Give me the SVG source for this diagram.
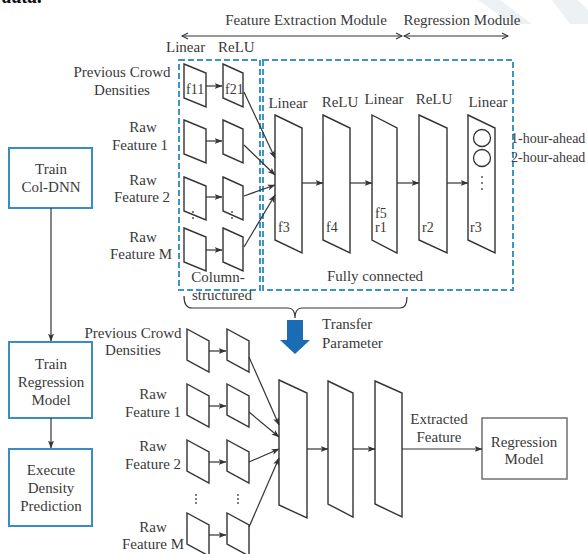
<svg xmlns="http://www.w3.org/2000/svg" width="588" height="554" viewBox="0 0 588 554">
<style>
.t{font-family:"Liberation Serif","Times New Roman",serif;font-size:15px;fill:#3a3a3a}
.m{text-anchor:middle}
.s{font-size:14px}
.p{fill:#fff;stroke:#333;stroke-width:1.4}
.c{stroke:#333;stroke-width:1.2;fill:none;marker-end:url(#ah)}
.dash{fill:none;stroke:#3d95c6;stroke-width:2;stroke-dasharray:6 3}
.lb{fill:#fff;stroke:#3a8cc4;stroke-width:2}
.dot{fill:#444}
</style>
<defs>
<marker id="ah" viewBox="0 0 8 8" refX="7.5" refY="4" markerWidth="8" markerHeight="8" markerUnits="userSpaceOnUse" orient="auto">
<path d="M0,1 L8,4 L0,7 L2,4 Z" fill="#333"/>
</marker>
<marker id="oh" viewBox="0 0 8 8" refX="7" refY="4" markerWidth="8" markerHeight="8" markerUnits="userSpaceOnUse" orient="auto-start-reverse">
<path d="M1,1 L7,4 L1,7" fill="none" stroke="#333" stroke-width="1.1"/>
</marker>
</defs>
<rect width="588" height="554" fill="#fff"/>
<g id="watermark" fill="#eef1f4">
<polygon points="478,0 500,0 532,24 512,24"/>
<polygon points="552,0 578,0 588,10 588,24 570,24"/>
</g>
<text class="t" x="2" y="3" style="font-size:20px;font-weight:bold;font-style:italic;fill:#111">data.</text>

<g id="modules">
<text class="t m" x="306" y="25">Feature Extraction Module</text>
<text class="t m" x="462" y="25">Regression Module</text>
<line x1="182" y1="36" x2="402" y2="36" stroke="#333" stroke-width="1" marker-start="url(#oh)" marker-end="url(#oh)"/>
<line x1="404" y1="36" x2="508" y2="36" stroke="#333" stroke-width="1" marker-start="url(#oh)" marker-end="url(#oh)"/>
</g>

<g id="col-labels">
<text class="t" x="166" y="52">Linear</text>
<text class="t" x="218" y="52">ReLU</text>
</g>

<g id="dashed-boxes">
<rect class="dash" x="179" y="60" width="81" height="230"/>
<rect class="dash" x="263" y="60" width="250" height="230"/>
</g>

<g id="inputs-top">
<text class="t m" x="122" y="77">Previous Crowd</text>
<text class="t m" x="122" y="95">Densities</text>
<text class="t m" x="143" y="132">Raw</text>
<text class="t m" x="140" y="150">Feature 1</text>
<text class="t m" x="143" y="185">Raw</text>
<text class="t m" x="142" y="202">Feature 2</text>
<text class="t m" x="143" y="242">Raw</text>
<text class="t m" x="141" y="259">Feature M</text>
</g>

<g id="column-top">
<polygon class="p" points="184,64 206,73 206,107 184,98"/>
<polygon class="p" points="223,64 243,73 243,107 223,98"/>
<text class="t s" x="186" y="94">f11</text>
<text class="t s" x="225" y="94">f21</text>
<polygon class="p" points="184,120 206,129 206,163 184,154"/>
<polygon class="p" points="223,120 243,129 243,163 223,154"/>
<polygon class="p" points="184,177 206,186 206,220 184,211"/>
<polygon class="p" points="223,177 243,186 243,220 223,211"/>
<polygon class="p" points="184,228 206,237 206,271 184,262"/>
<polygon class="p" points="223,228 243,237 243,271 223,262"/>
<circle class="dot" cx="193" cy="212" r="0.9"/><circle class="dot" cx="193" cy="218" r="0.9"/>
<circle class="dot" cx="232" cy="212" r="0.9"/><circle class="dot" cx="232" cy="218" r="0.9"/>
<text class="t m" x="218" y="282">Column-</text>
<text class="t m" x="222" y="300">structured</text>
</g>

<g id="fc-top">
<polygon class="p" points="275,115 302,128 302,253 275,240"/>
<polygon class="p" points="323,115 350,128 350,253 323,240"/>
<polygon class="p" points="372,115 397,128 397,253 372,240"/>
<polygon class="p" points="419,115 447,128 447,253 419,240"/>
<polygon class="p" points="468,115 495,128 495,253 468,240"/>
<circle cx="482" cy="138" r="8.5" fill="#fff" stroke="#333" stroke-width="1.3"/>
<circle cx="482" cy="158" r="8.5" fill="#fff" stroke="#333" stroke-width="1.3"/>
<circle class="dot" cx="482" cy="177" r="0.9"/><circle class="dot" cx="482" cy="183" r="0.9"/><circle class="dot" cx="482" cy="189" r="0.9"/>
<text class="t m" x="288" y="108">Linear</text>
<text class="t m" x="340" y="107">ReLU</text>
<text class="t m" x="384" y="104">Linear</text>
<text class="t m" x="434" y="104">ReLU</text>
<text class="t m" x="488" y="107">Linear</text>
<text class="t s" x="278" y="232">f3</text>
<text class="t s" x="326" y="232">f4</text>
<text class="t s" x="375" y="218">f5</text>
<text class="t s" x="375" y="232">r1</text>
<text class="t s" x="422" y="232">r2</text>
<text class="t s" x="470" y="232">r3</text>
<text class="t s" x="511" y="143">1-hour-ahead</text>
<text class="t s" x="511" y="162">2-hour-ahead</text>
<text class="t m" x="375" y="281">Fully connected</text>
</g>

<g id="transfer">
<path d="M184,296 Q184,308 192,308 H288 Q295,308 295,318 M295,318 Q295,308 302,308 H400 Q407,308 407,297" fill="none" stroke="#333" stroke-width="1.2"/>
<polygon points="287,320 303,320 303,340 310,340 295,354 280,340 287,340" fill="#1b6db3"/>
<text class="t" x="322" y="329">Transfer</text>
<text class="t" x="322" y="348">Parameter</text>
</g>

<g id="flow">
<rect class="lb" x="9" y="148" width="83" height="60"/>
<text class="t m" x="51" y="174">Train</text>
<text class="t m" x="51" y="192">Col-DNN</text>
<rect class="lb" x="9" y="342" width="83" height="76"/>
<text class="t m" x="51" y="369">Train</text>
<text class="t m" x="51" y="387">Regression</text>
<text class="t m" x="51" y="405">Model</text>
<rect class="lb" x="9" y="449" width="83" height="77"/>
<text class="t m" x="51" y="475">Execute</text>
<text class="t m" x="51" y="493">Density</text>
<text class="t m" x="51" y="511">Prediction</text>
</g>

<g id="inputs-bottom">
<text class="t m" x="133" y="338">Previous Crowd</text>
<text class="t m" x="133" y="355">Densities</text>
<text class="t m" x="153" y="399">Raw</text>
<text class="t m" x="153" y="417">Feature 1</text>
<text class="t m" x="153" y="451">Raw</text>
<text class="t m" x="153" y="469">Feature 2</text>
<text class="t m" x="153" y="532">Raw</text>
<text class="t m" x="153" y="549">Feature M</text>
</g>

<g id="column-bottom">
<polygon class="p" points="187,329 209,341 209,372 187,360"/>
<polygon class="p" points="227,329 249,341 249,372 227,360"/>
<polygon class="p" points="187,384 209,396 209,427 187,415"/>
<polygon class="p" points="227,384 249,396 249,427 227,415"/>
<polygon class="p" points="187,440 209,452 209,483 187,471"/>
<polygon class="p" points="227,440 249,452 249,483 227,471"/>
<polygon class="p" points="187,513 209,525 209,556 187,544"/>
<polygon class="p" points="227,513 249,525 249,556 227,544"/>
<circle class="dot" cx="196" cy="495" r="0.9"/><circle class="dot" cx="196" cy="499" r="0.9"/><circle class="dot" cx="196" cy="503" r="0.9"/>
<circle class="dot" cx="238" cy="495" r="0.9"/><circle class="dot" cx="238" cy="499" r="0.9"/><circle class="dot" cx="238" cy="503" r="0.9"/>
</g>

<g id="fc-bottom">
<polygon class="p" points="279,380 307,393 307,518 279,505"/>
<polygon class="p" points="328,381 353,393 353,517 328,504"/>
<polygon class="p" points="375,381 402,393 402,517 375,504"/>
<text class="t m" x="439" y="424">Extracted</text>
<text class="t m" x="439" y="442">Feature</text>
</g>

<g id="regression-model">
<rect x="482" y="418" width="85" height="61" fill="#fff" stroke="#707070" stroke-width="1.5"/>
<text class="t m" x="524" y="447">Regression</text>
<text class="t m" x="524" y="464">Model</text>
</g>

<g id="connectors">
<line class="c" x1="206" y1="86" x2="222" y2="86"/>
<line class="c" x1="206" y1="141" x2="222" y2="141"/>
<line class="c" x1="206" y1="197" x2="222" y2="197"/>
<line class="c" x1="206" y1="250" x2="222" y2="250"/>
<line class="c" x1="244" y1="92" x2="275" y2="158"/>
<line class="c" x1="244" y1="145" x2="275" y2="175"/>
<line class="c" x1="244" y1="196" x2="275" y2="185"/>
<line class="c" x1="244" y1="247" x2="275" y2="195"/>
<line class="c" x1="302" y1="183" x2="323" y2="183"/>
<line class="c" x1="350" y1="183" x2="372" y2="183"/>
<line class="c" x1="397" y1="183" x2="419" y2="183"/>
<line class="c" x1="447" y1="183" x2="468" y2="183"/>
<line class="c" x1="51" y1="208" x2="51" y2="341"/>
<line class="c" x1="51" y1="418" x2="51" y2="448"/>
<line class="c" x1="209" y1="351" x2="226" y2="351"/>
<line class="c" x1="209" y1="406" x2="226" y2="406"/>
<line class="c" x1="209" y1="462" x2="226" y2="462"/>
<line class="c" x1="209" y1="535" x2="226" y2="535"/>
<line class="c" x1="249" y1="357" x2="279" y2="425"/>
<line class="c" x1="249" y1="412" x2="279" y2="437"/>
<line class="c" x1="249" y1="462" x2="279" y2="449"/>
<line class="c" x1="249" y1="527" x2="279" y2="458"/>
<line class="c" x1="307" y1="449" x2="328" y2="449"/>
<line class="c" x1="353" y1="449" x2="375" y2="449"/>
<line class="c" x1="402" y1="449" x2="482" y2="449"/>
</g>
</svg>
